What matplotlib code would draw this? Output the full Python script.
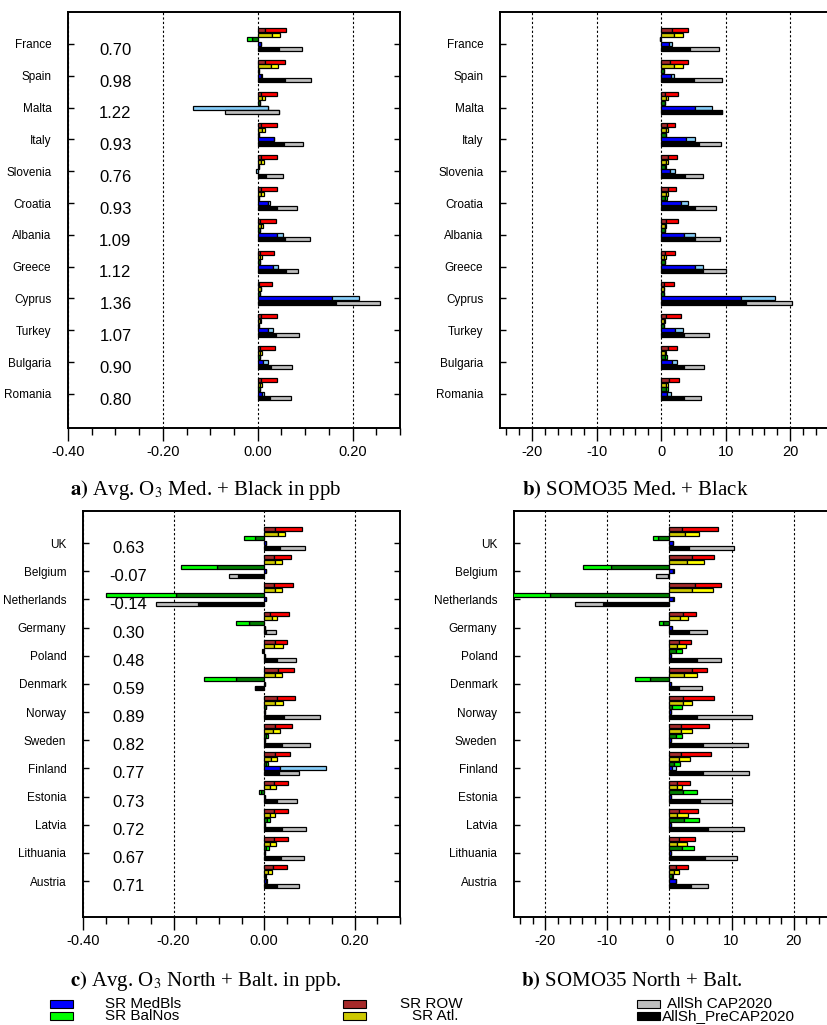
import matplotlib
matplotlib.use("Agg")
import matplotlib.pyplot as plt
from matplotlib.patches import Rectangle
from matplotlib.ticker import MultipleLocator, FormatStrFormatter

plt.rcParams['font.family'] = ['Liberation Sans', 'DejaVu Sans']
plt.rcParams['mathtext.fontset'] = 'stix'

# ---------------- data ----------------
countries_med = ["France", "Spain", "Malta", "Italy", "Slovenia", "Croatia", "Albania",
                 "Greece", "Cyprus", "Turkey", "Bulgaria", "Romania"]
values_med = ["0.70", "0.98", "1.22", "0.93", "0.76", "0.93", "1.09", "1.12", "1.36",
              "1.07", "0.90", "0.80"]
countries_nor = ["UK", "Belgium", "Netherlands", "Germany", "Poland", "Denmark", "Norway",
                 "Sweden", "Finland", "Estonia", "Latvia", "Lithuania", "Austria"]
values_nor = ["0.63", "-0.07", "-0.14", "0.30", "0.48", "0.59", "0.89", "0.82", "0.77",
              "0.73", "0.72", "0.67", "0.71"]

# panel a: avg O3 (ppb), Med + Black.  *_d = dark (SR / PreCAP) part, *_t = end of light part
a_row_d = [0.016, 0.016, 0.006, 0.006, 0.006, 0.006, 0.005, 0.004, 0.003, 0.006, 0.005, 0.006]
a_row_t = [0.060, 0.058, 0.041, 0.040, 0.040, 0.040, 0.039, 0.035, 0.030, 0.041, 0.037, 0.040]
a_atl_d = [0.030, 0.028, 0.008, 0.008, 0.007, 0.006, 0.006, 0.005, 0.006, 0.005, 0.004, 0.005]
a_atl_t = [0.047, 0.042, 0.015, 0.015, 0.013, 0.013, 0.011, 0.009, 0.006, 0.007, 0.008, 0.010]
a_bal_d = [-0.013, 0.002, 0.004, 0.003, 0.002, 0.003, 0.005, 0.005, 0.004, 0.003, 0.004, 0.004]
a_bal_t = [-0.023, 0.002, 0.005, 0.003, 0.002, 0.003, 0.005, 0.005, 0.004, 0.003, 0.004, 0.004]
a_med_d = [0.006, 0.006, 0.022, 0.035, 0.000, 0.021, 0.040, 0.033, 0.157, 0.022, 0.012, 0.008]
a_med_t = [0.007, 0.009, -0.136, 0.035, -0.004, 0.025, 0.054, 0.042, 0.214, 0.033, 0.021, 0.013]
a_all_d = [0.044, 0.058, 0.045, 0.055, 0.018, 0.040, 0.057, 0.059, 0.166, 0.038, 0.029, 0.026]
a_all_t = [0.093, 0.112, -0.070, 0.095, 0.053, 0.082, 0.110, 0.085, 0.257, 0.088, 0.073, 0.070]

# panel b: SOMO35, Med + Black
b_row_d = [1.6, 1.4, 0.6, 0.9, 1.1, 1.0, 0.7, 0.6, 0.4, 0.7, 1.0, 1.2]
b_row_t = [4.1, 4.1, 2.6, 2.2, 2.4, 2.3, 2.6, 2.2, 1.9, 3.1, 2.4, 2.7]
b_atl_d = [1.9, 1.9, 0.7, 0.7, 0.7, 0.7, 0.5, 0.4, 0.4, 0.4, 0.5, 0.7]
b_atl_t = [3.4, 3.3, 1.1, 1.1, 1.1, 1.1, 0.8, 0.7, 0.4, 0.6, 0.8, 1.1]
b_bal_d = [-0.2, 0.4, 0.6, 0.7, 0.6, 0.6, 0.6, 0.6, 0.4, 0.4, 0.6, 0.7]
b_bal_t = [-0.2, 0.4, 0.6, 0.7, 0.8, 0.9, 0.6, 0.6, 0.4, 0.4, 0.9, 1.1]
b_med_d = [1.2, 1.5, 5.2, 3.9, 1.4, 3.0, 3.6, 5.2, 12.3, 2.1, 1.6, 0.9]
b_med_t = [1.6, 1.9, 7.8, 5.3, 2.2, 4.1, 5.2, 6.4, 17.6, 3.4, 2.5, 1.5]
b_all_d = [4.5, 5.0, 9.4, 5.8, 3.7, 5.2, 5.2, 6.5, 13.1, 3.5, 3.6, 3.5]
b_all_t = [9.0, 9.4, 9.4, 9.2, 6.5, 8.5, 9.1, 10.0, 20.2, 7.4, 6.6, 6.2]

# panel c: avg O3 (ppb), North + Baltic
c_row_d = [0.024, 0.021, 0.021, 0.014, 0.025, 0.031, 0.028, 0.025, 0.024, 0.022, 0.022, 0.022, 0.020]
c_row_t = [0.083, 0.060, 0.063, 0.055, 0.051, 0.067, 0.069, 0.062, 0.058, 0.053, 0.053, 0.053, 0.051]
c_atl_d = [0.030, 0.024, 0.024, 0.018, 0.022, 0.024, 0.024, 0.020, 0.016, 0.014, 0.012, 0.012, 0.009]
c_atl_t = [0.046, 0.040, 0.040, 0.029, 0.042, 0.040, 0.042, 0.036, 0.029, 0.027, 0.024, 0.026, 0.018]
c_bal_d = [-0.021, -0.103, -0.194, -0.033, -0.003, -0.062, 0.003, 0.004, 0.004, -0.006, 0.006, 0.005, 0.002]
c_bal_t = [-0.044, -0.183, -0.349, -0.063, -0.005, -0.133, 0.005, 0.008, 0.008, -0.012, 0.012, 0.010, 0.003]
c_med_d = [0.004, 0.003, 0.003, 0.002, 0.002, 0.001, 0.002, 0.002, 0.036, 0.002, 0.002, 0.002, 0.004]
c_med_t = [0.004, 0.003, 0.003, 0.002, 0.002, 0.001, 0.002, 0.002, 0.136, 0.002, 0.002, 0.002, 0.006]
c_all_d = [0.036, -0.058, -0.146, 0.004, 0.029, -0.020, 0.044, 0.040, 0.033, 0.029, 0.040, 0.038, 0.029]
c_all_t = [0.091, -0.077, -0.238, 0.027, 0.071, -0.020, 0.124, 0.102, 0.076, 0.073, 0.093, 0.089, 0.076]

# panel d: SOMO35, North + Baltic
d_row_d = [2.1, 3.7, 4.2, 2.2, 1.6, 3.6, 2.2, 1.8, 1.9, 1.3, 1.6, 1.5, 1.0]
d_row_t = [7.8, 7.1, 8.3, 4.3, 3.4, 6.0, 7.2, 6.4, 6.7, 3.3, 4.6, 4.2, 3.0]
d_atl_d = [2.5, 2.9, 3.6, 1.7, 1.3, 2.3, 2.2, 1.8, 1.6, 1.2, 1.3, 1.2, 0.8]
d_atl_t = [4.7, 5.5, 7.0, 3.0, 2.6, 4.4, 3.6, 3.6, 3.3, 2.1, 3.0, 2.8, 1.6]
d_bal_d = [-1.9, -9.4, -19.2, -1.1, 1.0, -3.2, 0.4, 1.0, 0.8, 2.2, 2.4, 2.0, 0.4]
d_bal_t = [-2.7, -13.9, -25.5, -1.7, 2.1, -5.6, 2.0, 2.1, 1.7, 4.4, 4.7, 3.9, 0.6]
d_med_d = [0.5, 0.5, 0.5, 0.4, 0.3, 0.2, 0.3, 0.3, 0.4, 0.2, 0.2, 0.2, 1.0]
d_med_t = [0.5, 0.8, 0.7, 0.4, 0.3, 0.2, 0.3, 0.3, 1.0, 0.2, 0.2, 0.2, 1.0]
d_all_d = [3.1, -0.3, -10.7, 3.1, 4.4, 1.5, 4.5, 5.4, 5.4, 4.9, 6.2, 5.7, 3.5]
d_all_t = [10.4, -2.1, -15.2, 6.1, 8.3, 5.2, 13.3, 12.6, 12.8, 10.1, 12.0, 10.9, 6.2]

# colours (dark part, light part) per source row
row_colors = [("#a52a2a", "#ff0000"),   # ROW
              ("#cdc800", "#ffff00"),   # Atl
              ("#008000", "#00ff00"),   # BalNos
              ("#0000ff", "#87cefa"),   # MedBls
              ("#000000", "#bebebe")]   # AllSh PreCAP2020 / CAP2020

W, H = 827, 1025
fig = plt.figure(figsize=(W / 100, H / 100), dpi=100)


def rect(l, r, t, b):
    return [l / W, 1 - b / H, (r - l) / W, (b - t) / H]


def panel(pos, xlim, major, minor, fmt, countries, step, series, values=None,
          vx=None, ytop=None, ybot=None):
    ax = fig.add_axes(pos)
    n = len(countries)
    ax.set_xlim(*xlim)
    ax.set_ylim(ybot, ytop)
    rstep = 4.65 / step
    bh = 4.0 / step
    offs = [-3 * rstep, -2 * rstep, -1 * rstep, 0.0, 1 * rstep]
    for k, (dark, tot) in enumerate(series):
        cd, cl = row_colors[k]
        ys = [i + offs[k] for i in range(n)]
        ax.barh(ys, dark, height=bh, left=0, color=cd, edgecolor="black", linewidth=0.9, zorder=3)
        ax.barh(ys, [t - d for d, t in zip(dark, tot)], height=bh, left=dark, color=cl,
                edgecolor="black", linewidth=0.9, zorder=3)
    ax.set_yticks(range(n))
    ax.set_yticklabels(countries, fontsize=8.5)
    ax.tick_params(axis="y", direction="in", length=4, width=1, pad=12, left=True, right=True)
    ax.xaxis.set_major_locator(MultipleLocator(major))
    ax.xaxis.set_minor_locator(MultipleLocator(minor))
    ax.xaxis.set_major_formatter(FormatStrFormatter(fmt))
    ax.tick_params(axis="x", which="major", direction="out", length=9, width=1, labelsize=10.5, pad=3)
    ax.tick_params(axis="x", which="minor", direction="out", length=5, width=1)
    for s in ax.spines.values():
        s.set_linewidth(1.4)
    ax.grid(axis="x", which="major", linestyle=(0, (2, 2)), color="black", linewidth=0.8, zorder=1)
    if values is not None:
        for i, v in enumerate(values):
            ax.text(vx, i + 0.2, v, fontsize=12, ha="center", va="center", zorder=5)
    return ax


ax_a = panel(rect(68, 400, 12, 428), (-0.40, 0.30), 0.2, 0.05, "%.2f", countries_med, 31.8,
             [(a_row_d, a_row_t), (a_atl_d, a_atl_t), (a_bal_d, a_bal_t),
              (a_med_d, a_med_t), (a_all_d, a_all_t)],
             values_med, -0.30, -1.006, 12.075)
ax_b = panel(rect(500, 829, 12, 428), (-25, 26), 10, 2, "%d", countries_med, 31.8,
             [(b_row_d, b_row_t), (b_atl_d, b_atl_t), (b_bal_d, b_bal_t),
              (b_med_d, b_med_t), (b_all_d, b_all_t)],
             None, None, -1.006, 12.075)
ax_c = panel(rect(83, 400, 511, 917), (-0.40, 0.30), 0.2, 0.05, "%.2f", countries_nor, 28.17,
             [(c_row_d, c_row_t), (c_atl_d, c_atl_t), (c_bal_d, c_bal_t),
              (c_med_d, c_med_t), (c_all_d, c_all_t)],
             values_nor, -0.30, -1.136, 13.277)
ax_d = panel(rect(514, 831, 511, 917), (-25, 26), 10, 2, "%d", countries_nor, 28.17,
             [(d_row_d, d_row_t), (d_atl_d, d_atl_t), (d_bal_d, d_bal_t),
              (d_med_d, d_med_t), (d_all_d, d_all_t)],
             None, None, -1.136, 13.277)
for ax in (ax_b, ax_d):
    ax.spines["right"].set_visible(False)
    ax.tick_params(axis="y", right=False)

# captions
cap_kw = dict(fontsize=15, family=["Liberation Serif", "DejaVu Serif"], va="center", ha="left")
fig.text(70 / W, 1 - 490 / H, r"$\mathbf{a)}$ Avg. O$_3$ Med. + Black in ppb", **cap_kw)
fig.text(522 / W, 1 - 490 / H, r"$\mathbf{b)}$ SOMO35 Med. + Black", **cap_kw)
fig.text(70 / W, 1 - 981 / H, r"$\mathbf{c)}$ Avg. O$_3$ North + Balt. in ppb.", **cap_kw)
fig.text(521 / W, 1 - 981 / H, r"$\mathbf{b)}$ SOMO35 North + Balt.", **cap_kw)

# legend
leg_items = [(50, 1004, "#0000ff", "SR MedBls", 105),
             (50, 1016, "#00ff00", "SR BalNos", 105),
             (343, 1004, "#a52a2a", "SR ROW", 400),
             (343, 1016, "#cdc800", "SR Atl.", 412),
             (637, 1004, "#bebebe", "AllSh CAP2020", 667),
             (637, 1016, "#000000", "AllSh_PreCAP2020", 662)]
for px, py, col, lab, tx in leg_items:
    fig.patches.append(Rectangle((px / W, 1 - (py + 4) / H), 23 / W, 8 / H, transform=fig.transFigure,
                                 facecolor=col, edgecolor="black", linewidth=0.8))
    fig.text(tx / W, 1 - py / H, lab, fontsize=11, va="center", ha="left")

fig.savefig("out.png", dpi=100)
